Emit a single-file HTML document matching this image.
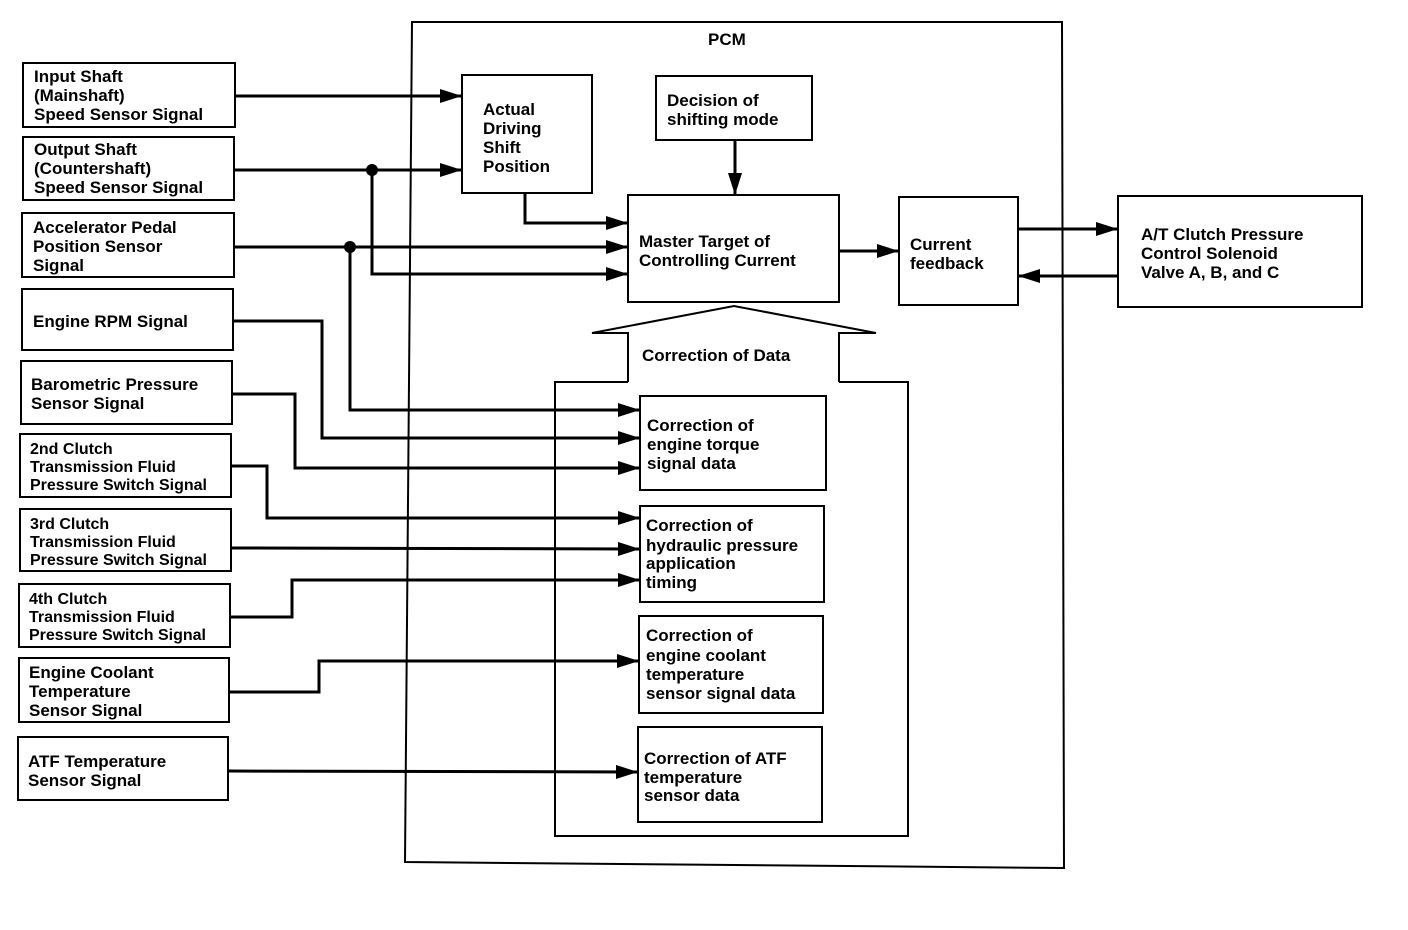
<!DOCTYPE html>
<html><head><meta charset="utf-8"><style>
html,body{margin:0;padding:0;background:#fff;}
svg{display:block;}
text{font-family:"Liberation Sans",Arial,sans-serif;font-weight:bold;font-size:17px;fill:#000;}
</style></head><body>
<svg width="1408" height="930" viewBox="0 0 1408 930" xmlns="http://www.w3.org/2000/svg">
<defs>
<marker id="a" markerWidth="22" markerHeight="14" refX="22" refY="7" orient="auto" markerUnits="userSpaceOnUse">
<path d="M0,0 L22,7 L0,14 z" fill="#000"/></marker>
</defs>
<g fill="none" stroke="#000" stroke-width="2">
<!-- PCM -->
<path d="M412,22 L1062,22 L1064,868 L405,862 Z"/>
<!-- left boxes -->
<rect x="23" y="63" width="212" height="64"/>
<rect x="23" y="137" width="211" height="63"/>
<rect x="22" y="213" width="212" height="64"/>
<rect x="22" y="289" width="211" height="61"/>
<rect x="21" y="361" width="211" height="63"/>
<rect x="20" y="434" width="211" height="63"/>
<rect x="20" y="509" width="211" height="62"/>
<rect x="19" y="584" width="211" height="63"/>
<rect x="19" y="658" width="210" height="64"/>
<rect x="18" y="737" width="210" height="63"/>
<!-- inner boxes -->
<rect x="462" y="75" width="130" height="118"/>
<rect x="656" y="76" width="156" height="64"/>
<rect x="628" y="195" width="211" height="107"/>
<rect x="899" y="197" width="119" height="108"/>
<rect x="1118" y="196" width="244" height="111"/>
<path d="M628,382 L555,382 L555,836 L908,836 L908,382 L839,382"/>
<rect x="640" y="396" width="186" height="94"/>
<rect x="640" y="506" width="184" height="96"/>
<rect x="639" y="616" width="184" height="97"/>
<rect x="638" y="727" width="184" height="95"/>
<!-- big arrow -->
<path d="M628,382 L628,333 L592,333 L734,306 L876,333 L839,333 L839,382"/>
</g>
<g fill="none" stroke="#000" stroke-width="3">
<path d="M235,96 L462,96" marker-end="url(#a)"/>
<path d="M234,170 L462,170" marker-end="url(#a)"/>
<path d="M372,170 L372,274 L628,274" marker-end="url(#a)"/>
<path d="M234,247 L628,247" marker-end="url(#a)"/>
<path d="M525,193 L525,223 L628,223" marker-end="url(#a)"/>
<path d="M735,140 L735,195" marker-end="url(#a)"/>
<path d="M839,251 L899,251" marker-end="url(#a)"/>
<path d="M1018,229 L1118,229" marker-end="url(#a)"/>
<path d="M1118,276 L1018,276" marker-end="url(#a)"/>
<path d="M350,247 L350,410 L640,410" marker-end="url(#a)"/>
<path d="M233,321 L322,321 L322,438 L640,438" marker-end="url(#a)"/>
<path d="M232,394 L295,394 L295,468 L640,468" marker-end="url(#a)"/>
<path d="M231,466 L267,466 L267,518 L640,518" marker-end="url(#a)"/>
<path d="M231,548 L640,549" marker-end="url(#a)"/>
<path d="M230,617 L292,617 L292,580 L640,580" marker-end="url(#a)"/>
<path d="M229,692 L319,692 L319,661 L639,661" marker-end="url(#a)"/>
<path d="M228,771 L638,772" marker-end="url(#a)"/>
</g>
<circle cx="372" cy="170" r="6"/>
<circle cx="350" cy="247" r="6"/>
<text x="708" y="45">PCM</text>
<text x="34" y="82">Input Shaft</text><text x="34" y="101">(Mainshaft)</text><text x="34" y="120">Speed Sensor Signal</text>
<text x="34" y="155">Output Shaft</text><text x="34" y="174">(Countershaft)</text><text x="34" y="193">Speed Sensor Signal</text>
<text x="33" y="233">Accelerator Pedal</text><text x="33" y="252">Position Sensor</text><text x="33" y="271">Signal</text>
<text x="33" y="327">Engine RPM Signal</text>
<text x="31" y="390">Barometric Pressure</text><text x="31" y="409">Sensor Signal</text>
<text x="30" y="454" style="font-size:16px">2nd Clutch</text><text x="30" y="472" style="font-size:16px">Transmission Fluid</text><text x="30" y="490" style="font-size:16px">Pressure Switch Signal</text>
<text x="30" y="529" style="font-size:16px">3rd Clutch</text><text x="30" y="547" style="font-size:16px">Transmission Fluid</text><text x="30" y="565" style="font-size:16px">Pressure Switch Signal</text>
<text x="29" y="604" style="font-size:16px">4th Clutch</text><text x="29" y="622" style="font-size:16px">Transmission Fluid</text><text x="29" y="640" style="font-size:16px">Pressure Switch Signal</text>
<text x="29" y="678">Engine Coolant</text><text x="29" y="697">Temperature</text><text x="29" y="716">Sensor Signal</text>
<text x="28" y="767">ATF Temperature</text><text x="28" y="786">Sensor Signal</text>
<text x="483" y="115">Actual</text><text x="483" y="134">Driving</text><text x="483" y="153">Shift</text><text x="483" y="172">Position</text>
<text x="667" y="106">Decision of</text><text x="667" y="125">shifting mode</text>
<text x="639" y="247">Master Target of</text><text x="639" y="266">Controlling Current</text>
<text x="910" y="250">Current</text><text x="910" y="269">feedback</text>
<text x="1141" y="240">A/T Clutch Pressure</text><text x="1141" y="259">Control Solenoid</text><text x="1141" y="278">Valve A, B, and C</text>
<text x="642" y="361">Correction of Data</text>
<text x="647" y="431">Correction of</text><text x="647" y="450">engine torque</text><text x="647" y="469">signal data</text>
<text x="646" y="531">Correction of</text><text x="646" y="551">hydraulic pressure</text><text x="646" y="569">application</text><text x="646" y="588">timing</text>
<text x="646" y="641">Correction of</text><text x="646" y="661">engine coolant</text><text x="646" y="680">temperature</text><text x="646" y="699">sensor signal data</text>
<text x="644" y="764">Correction of ATF</text><text x="644" y="783">temperature</text><text x="644" y="801">sensor data</text>
</svg>
</body></html>
